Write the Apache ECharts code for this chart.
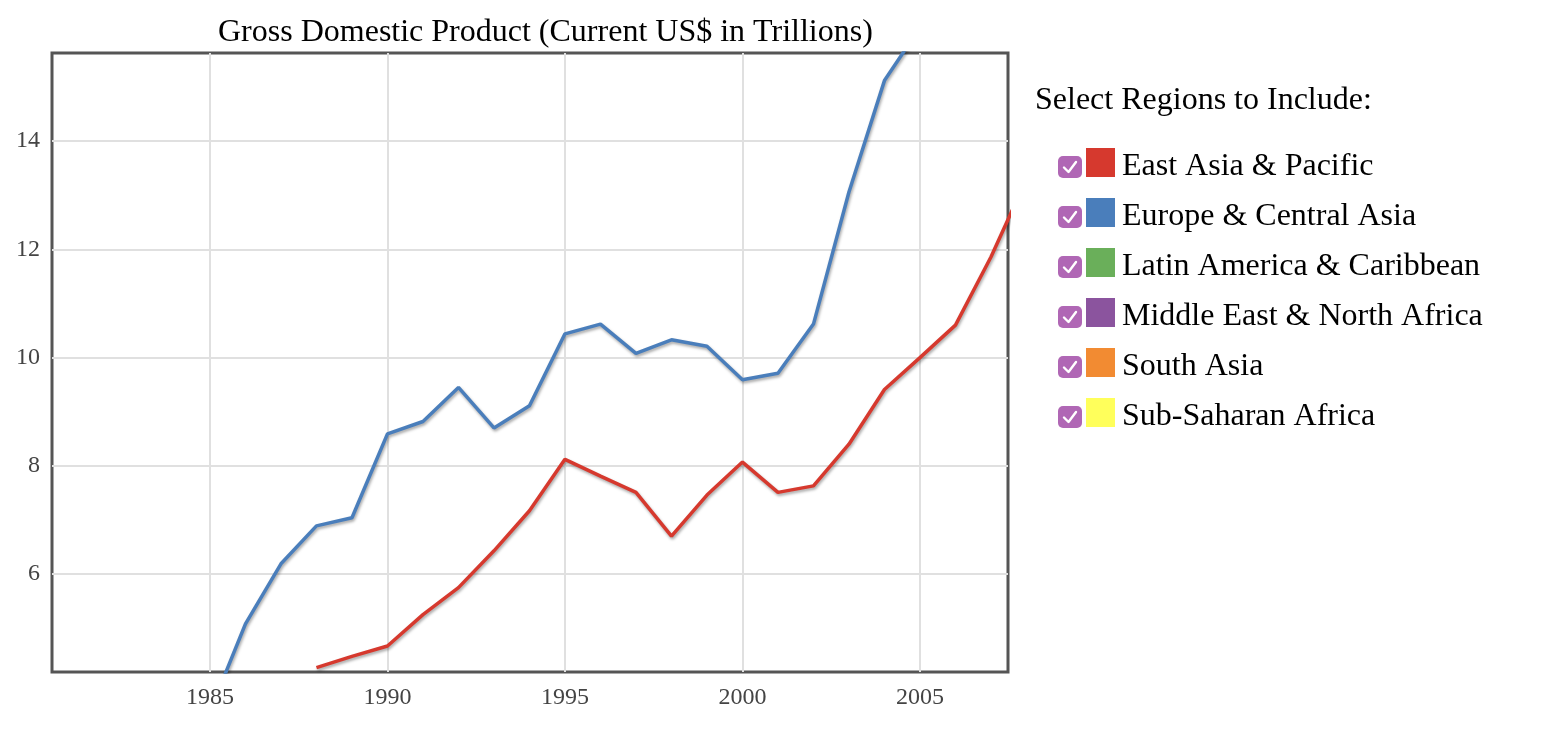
<!DOCTYPE html>
<html>
<head>
<meta charset="utf-8">
<script src="https://cdn.jsdelivr.net/npm/echarts@6/dist/echarts.min.js"></script>
<style>
html,body{margin:0;padding:0;background:#fff;}
#chart{width:1556px;height:750px;}
</style>
</head>
<body>
<div id="chart"></div>
<script>
// ---- data ----
var titleText = 'Gross Domestic Product (Current US$ in Trillions)';
var legendTitle = 'Select Regions to Include:';
var regions = ['East Asia & Pacific', 'Europe & Central Asia', 'Latin America & Caribbean',
               'Middle East & North Africa', 'South Asia', 'Sub-Saharan Africa'];
var regionColors = ['#d6392e', '#4a7ebb', '#6aaf5a', '#8b549e', '#f28b32', '#ffff5b'];

var eastAsiaYears = [1988, 1989, 1990, 1991, 1992, 1993, 1994, 1995, 1996, 1997, 1998, 1999,
                     2000, 2001, 2002, 2003, 2004, 2005, 2006, 2007, 2008];
var eastAsiaValues = [4.27, 4.48, 4.67, 5.25, 5.75, 6.43, 7.17, 8.12, 7.81, 7.51, 6.70, 7.46,
                      8.07, 7.51, 7.63, 8.40, 9.41, 10.00, 10.60, 11.86, 13.30];

var europeYears = [1985, 1986, 1987, 1988, 1989, 1990, 1991, 1992, 1993, 1994, 1995, 1996,
                   1997, 1998, 1999, 2000, 2001, 2002, 2003, 2004, 2005];
var europeValues = [3.46, 5.08, 6.19, 6.89, 7.04, 8.59, 8.82, 9.45, 8.70, 9.11, 10.44, 10.62,
                    10.08, 10.33, 10.21, 9.59, 9.71, 10.62, 13.06, 15.12, 16.10];

var xTicks = [1985, 1990, 1995, 2000, 2005];
var yTicks = [6, 8, 10, 12, 14];
var xRange = [1980.55, 2007.48];
var yRange = [4.19, 15.63];

function pairs(xs, ys) { return xs.map(function (x, i) { return [x, ys[i]]; }); }

var serif = '"Liberation Serif", "Times New Roman", serif';

// ---- legend graphics ----
var graphics = [{
  type: 'text', left: 1035, top: 85,
  style: { text: legendTitle, font: '32px ' + serif, fill: '#000' }
}];
regions.forEach(function (name, i) {
  var y0 = 148 + i * 50;
  graphics.push({
    type: 'rect', shape: { x: 1058, y: y0 + 8, width: 24, height: 22, r: 5 },
    style: { fill: '#b067b5' }
  });
  graphics.push({
    type: 'polyline', shape: { points: [[1064, y0 + 19.5], [1068.5, y0 + 24], [1076, y0 + 14]] },
    style: { stroke: '#fff', lineWidth: 2.4, fill: null, lineCap: 'round', lineJoin: 'round' }
  });
  graphics.push({
    type: 'rect', shape: { x: 1086, y: y0, width: 29, height: 29 },
    style: { fill: regionColors[i] }
  });
  graphics.push({
    type: 'text', left: 1122, top: y0 + 3,
    style: { text: name, font: '32px ' + serif, fill: '#000' }
  });
});

var lineShadow = { shadowColor: 'rgba(0,0,0,0.35)', shadowBlur: 3, shadowOffsetX: 1, shadowOffsetY: 2 };
function plain(v) { return String(v); }

var chart = echarts.init(document.getElementById('chart'));
chart.setOption({
  backgroundColor: '#fff',
  animation: false,
  title: {
    text: titleText, left: 213, top: 12,
    textStyle: { fontFamily: serif, fontSize: 32, fontWeight: 'normal', color: '#000' }
  },
  grid: {
    left: 52, top: 53, right: 548, bottom: 78,
    show: true, borderColor: '#555', borderWidth: 3, backgroundColor: 'transparent'
  },
  xAxis: {
    type: 'value', min: xRange[0], max: xRange[1],
    axisLine: { show: false },
    axisTick: { show: false, customValues: xTicks },
    axisLabel: { customValues: xTicks, formatter: plain, fontFamily: serif, fontSize: 24, color: '#444', margin: 14 },
    splitLine: { show: true, lineStyle: { color: '#e0e0e0', width: 2 } }
  },
  yAxis: {
    type: 'value', min: yRange[0], max: yRange[1],
    axisLine: { show: false },
    axisTick: { show: false, customValues: yTicks },
    axisLabel: { customValues: yTicks, formatter: plain, fontFamily: serif, fontSize: 24, color: '#444', margin: 12 },
    splitLine: { show: true, lineStyle: { color: '#e0e0e0', width: 2 } }
  },
  series: [{
    name: regions[0], type: 'line', data: pairs(eastAsiaYears, eastAsiaValues),
    showSymbol: false, clip: true,
    lineStyle: Object.assign({ color: regionColors[0], width: 3.5 }, lineShadow)
  }, {
    name: regions[1], type: 'line', data: pairs(europeYears, europeValues),
    showSymbol: false, clip: true,
    lineStyle: Object.assign({ color: regionColors[1], width: 3.5 }, lineShadow)
  }],
  graphic: graphics
});
</script>
</body>
</html>
